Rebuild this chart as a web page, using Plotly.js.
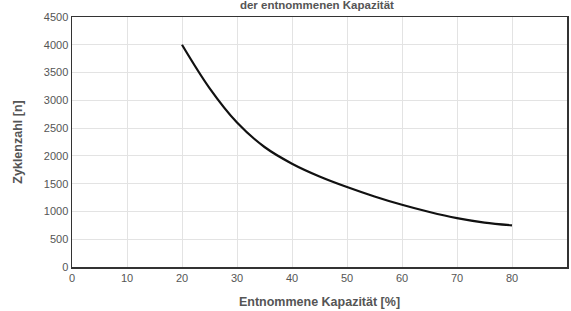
<!DOCTYPE html>
<html><head><meta charset="utf-8">
<script src="https://cdn.plot.ly/plotly-3.0.1.min.js"></script>
<style>body{margin:0;padding:0;background:#fff}#c{width:571px;height:311px}</style>
</head><body><div id="c"></div>
<script>
const kapazitaet = [20,25,30,35,40,45,50,55,60,65,70,75,80];
const zyklen = [4000,3220,2600,2160,1860,1630,1440,1270,1120,990,880,800,750];
const xTicks = [0,10,20,30,40,50,60,70,80,90];
const yTicks = [0,500,1000,1500,2000,2500,3000,3500,4000,4500];

const trace = {x: kapazitaet, y: zyklen, mode:'lines', type:'scatter',
  line:{color:'#111', width:2.2, shape:'spline', smoothing:1}, hoverinfo:'skip'};
const layout = {
  width:571, height:311,
  margin:{l:72, r:4, t:17, b:44},
  paper_bgcolor:'#fff', plot_bgcolor:'#fff', showlegend:false,
  font:{family:'Liberation Sans, Arial, sans-serif', color:'#555', size:11},
  title:{text:'<b>der entnommenen Kapazität</b>', font:{size:11.5, color:'#555'}, x:0.555, xanchor:'center', y:0.998, yanchor:'top', yref:'container'},
  xaxis:{range:[0,90], tickvals:xTicks, ticktext:xTicks.map(String), showgrid:true, gridcolor:'#e3e3e3', gridwidth:1,
    zeroline:false, showline:true, linecolor:'#333', linewidth:1.5, mirror:true, ticks:'', tickfont:{size:11,color:'#555'},
    title:{text:'<b>Entnommene Kapazität [%]</b>', font:{size:12.5,color:'#555'}, standoff:14}},
  yaxis:{range:[0,4500], tickvals:yTicks, ticktext:yTicks.map(String), showgrid:true, gridcolor:'#e3e3e3', gridwidth:1,
    zeroline:false, showline:true, linecolor:'#333', linewidth:1.5, mirror:true, ticks:'', tickfont:{size:11,color:'#555'},
    title:{text:'<b>Zyklenzahl [n]</b>', font:{size:12.5,color:'#555'}, standoff:18}}
};
Plotly.newPlot('c',[trace],layout,{staticPlot:true,displayModeBar:false});
</script></body></html>
